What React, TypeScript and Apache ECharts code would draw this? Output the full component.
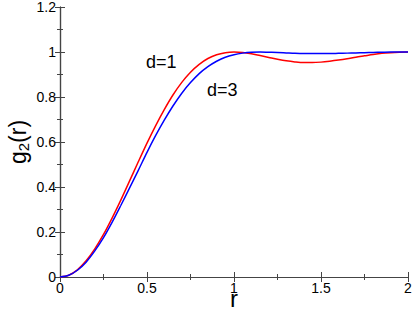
import React, { useEffect, useRef } from "react";
import * as echarts from "echarts";

const rValues = [
  0, 0.05, 0.1, 0.15, 0.2, 0.25, 0.3, 0.35, 0.4, 0.45, 0.5, 0.55, 0.6, 0.65, 0.7, 0.75, 0.8, 0.85, 0.9, 0.95,
  1.0, 1.05, 1.1, 1.15, 1.2, 1.25, 1.3, 1.35, 1.4, 1.45, 1.5, 1.55, 1.6, 1.65, 1.7, 1.75, 1.8, 1.85, 1.9, 1.95, 2.0,
];
const gD1 = [
  0, 0.008, 0.032, 0.072, 0.125, 0.189, 0.263, 0.343, 0.427, 0.512, 0.595, 0.673, 0.745, 0.81, 0.865, 0.91, 0.945, 0.971, 0.988, 0.997,
  1.0, 0.998, 0.992, 0.984, 0.976, 0.968, 0.961, 0.956, 0.953, 0.953, 0.955, 0.959, 0.964, 0.97, 0.977, 0.983, 0.989, 0.994, 0.997, 0.999, 1.0,
];
const gD3 = [
  0, 0.008, 0.03, 0.066, 0.116, 0.175, 0.244, 0.319, 0.396, 0.474, 0.554, 0.629, 0.698, 0.761, 0.817, 0.864, 0.904, 0.935, 0.959, 0.977,
  0.988, 0.995, 0.999, 1.0, 0.999, 0.998, 0.996, 0.994, 0.993, 0.993, 0.993, 0.993, 0.994, 0.995, 0.996, 0.997, 0.998, 0.999, 1.0, 1.0, 1.0,
];
const seriesNames = ["d=1", "d=3"];
const FONT = "Liberation Sans, Arial, sans-serif";

export default function App() {
  const ref = useRef<HTMLDivElement>(null);
  useEffect(() => {
    if (!ref.current) return;
    const chart = echarts.init(ref.current, undefined, { renderer: "svg" });
    const axisLine = { show: true, lineStyle: { color: "#444", width: 1.2 } };
    const tick = { show: true, inside: true, length: 5, lineStyle: { color: "#444", width: 1 } };
    const minor = { show: true, splitNumber: 2, length: 3, lineStyle: { color: "#444", width: 1 } };
    chart.setOption({
      animation: false,
      grid: { left: 60, right: 7, top: 7, bottom: 35, containLabel: false, outerBoundsMode: "none" },
      xAxis: [
        {
          type: "value", min: 0, max: 2, interval: 0.5, position: "bottom",
          axisLine, axisTick: tick, minorTick: minor, splitLine: { show: false },
          axisLabel: { color: "#000", fontSize: 14, fontFamily: FONT, margin: 4, showMaxLabel: true },
          name: "r", nameLocation: "middle", nameGap: 12, nameMoveOverlap: false,
          nameTextStyle: { color: "#000", fontSize: 24, fontFamily: FONT, lineHeight: 18 },
        },
        {
          type: "value", min: 0, max: 2, interval: 0.5, position: "top",
          axisLine, axisTick: tick, minorTick: minor, splitLine: { show: false }, axisLabel: { show: false },
        },
      ],
      yAxis: [
        {
          type: "value", min: 0, max: 1.2, interval: 0.2, position: "left",
          axisLine, axisTick: tick, minorTick: minor, splitLine: { show: false },
          axisLabel: { color: "#000", fontSize: 14, fontFamily: FONT, margin: 4 },
          name: "{a|g}{b|2}{a|(r)}", nameLocation: "middle", nameGap: 30, nameMoveOverlap: false,
          nameTextStyle: {
            color: "#000", fontFamily: FONT,
            rich: {
              a: { fontSize: 23, fontFamily: FONT, color: "#000", lineHeight: 24 },
              b: { fontSize: 15, fontFamily: FONT, color: "#000", lineHeight: 24, padding: [10, 0, 0, 0] },
            },
          },
        },
        {
          type: "value", min: 0, max: 1.2, interval: 0.2, position: "right",
          axisLine, axisTick: tick, minorTick: minor, splitLine: { show: false }, axisLabel: { show: false },
        },
      ],
      series: [
        {
          name: seriesNames[0], type: "line", smooth: 0.3, showSymbol: false,
          data: rValues.map((r, i) => [r, gD1[i]]),
          lineStyle: { color: "#ff0000", width: 1.5 }, itemStyle: { color: "#ff0000" },
        },
        {
          name: seriesNames[1], type: "line", smooth: 0.3, showSymbol: false,
          data: rValues.map((r, i) => [r, gD3[i]]),
          lineStyle: { color: "#0000ff", width: 1.5 }, itemStyle: { color: "#0000ff" },
        },
      ],
      graphic: [
        { type: "text", left: 146, top: 53, style: { text: seriesNames[0], fontSize: 18, fontFamily: FONT, fill: "#000" } },
        { type: "text", left: 207, top: 81, style: { text: seriesNames[1], fontSize: 18, fontFamily: FONT, fill: "#000" } },
      ],
    });
    return () => chart.dispose();
  }, []);
  return <div ref={ref} style={{ width: 415, height: 312, position: "absolute", left: 0, top: 0 }} />;
}
